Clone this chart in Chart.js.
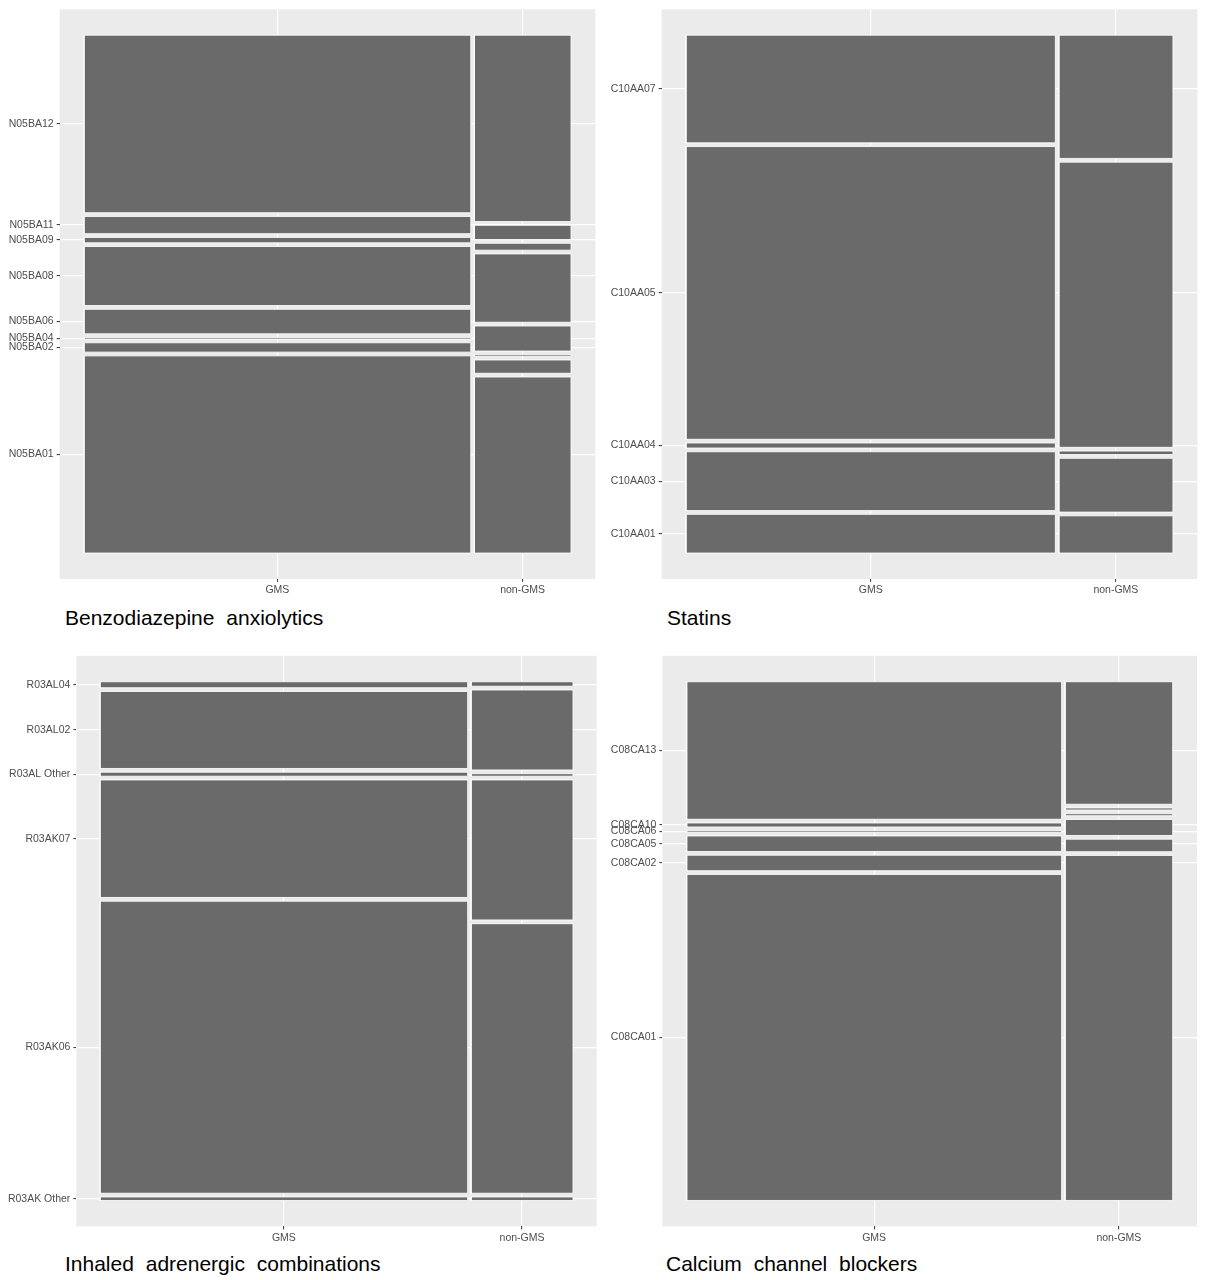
<!DOCTYPE html>
<html><head><meta charset="utf-8">
<script src="https://cdn.jsdelivr.net/npm/chart.js@4.4.1/dist/chart.umd.min.js"></script>
<style>
body{margin:0;background:#fff;}
#wrap{position:relative;width:1206px;height:1280px;overflow:hidden;background:#fff;}
#wrap canvas{position:absolute;}
.cap{position:absolute;font-family:'Liberation Sans',Arial,sans-serif;font-size:21px;line-height:24px;color:#000;word-spacing:6px;white-space:nowrap;}
</style></head><body>
<div id="wrap">
  <canvas id="c0" width="600" height="600" style="left:0;top:0;width:600px;height:600px"></canvas>
  <canvas id="c1" width="606" height="600" style="left:600px;top:0;width:606px;height:600px"></canvas>
  <canvas id="c2" width="600" height="608" style="left:0;top:640px;width:600px;height:608px"></canvas>
  <canvas id="c3" width="606" height="608" style="left:600px;top:640px;width:606px;height:608px"></canvas>
  <div class="cap" id="t0" style="left:65px;top:606px"></div>
  <div class="cap" id="t1" style="left:667px;top:606px"></div>
  <div class="cap" id="t2" style="left:65px;top:1252px"></div>
  <div class="cap" id="t3" style="left:666px;top:1252px"></div>
</div>
<script>
// ---------------- data (shares in %) ----------------
const columns = ['GMS', 'non-GMS'];

const benzoCats = ['N05BA01','N05BA02','N05BA04','N05BA06','N05BA08','N05BA09','N05BA11','N05BA12'];
const benzoGMS = [40.1, 1.9, 0.3, 5.0, 12.0, 1.1, 3.5, 36.1];
const benzoNonGMS = [35.8, 2.7, 0.3, 5.1, 13.9, 1.4, 2.9, 37.9];
const benzoColumnShare = [80.0, 20.0];

const statinCats = ['C10AA01','C10AA03','C10AA04','C10AA05','C10AA07'];
const statinGMS = [7.7, 11.7, 1.0, 58.2, 21.4];
const statinNonGMS = [7.4, 10.7, 0.7, 56.7, 24.5];
const statinColumnShare = [76.4, 23.6];

const inhaledCats = ['R03AK Other','R03AK06','R03AK07','R03AL Other','R03AL02','R03AL04'];
const inhaledGMS = [0.7, 58.4, 23.5, 0.8, 15.4, 1.2];
const inhaledNonGMS = [0.7, 53.9, 28.0, 0.5, 16.0, 0.9];
const inhaledColumnShare = [78.3, 21.7];

const ccbCats = ['C08CA01','C08CA02','C08CA05','C08CA06','C08CA10','C08CA13'];
const ccbGMS = [65.2, 3.1, 3.1, 0.3, 0.8, 27.5];
const ccbNonGMS = [69.0, 2.5, 3.2, 0.4, 0.4, 24.5];
const ccbColumnShare = [77.7, 22.3];

const titles = ['Benzodiazepine anxiolytics', 'Statins', 'Inhaled adrenergic combinations', 'Calcium channel blockers'];

// ---------------- styling / layout ----------------
const GAP = 0.0072;
const FILL = '#6a6a6a';
const FONT = "'Liberation Sans', Arial, sans-serif";

function mosaic(colValues, colShare) {
  const totalShare = colShare.reduce((a, b) => a + b, 0);
  const availX = 1 - GAP * (colShare.length - 1);
  let x = 0;
  const rects = [], colCenters = [], firstCenters = [];
  colShare.forEach((s, j) => {
    const w = s / totalShare * availX;
    const x0 = x, x1 = x + w;
    colCenters.push((x0 + x1) / 2);
    const vals = colValues[j];
    const tot = vals.reduce((a, b) => a + b, 0);
    const availY = 1 - GAP * (vals.length - 1);
    let y = 0;
    vals.forEach((v) => {
      const h = v / tot * availY;
      rects.push({x0, x1, y0: y, y1: y + h});
      if (j === 0) firstCenters.push(y + h / 2);
      y += h + GAP;
    });
    x = x1 + GAP;
  });
  return {rects, colCenters, firstCenters};
}

const panelBg = {
  id: 'panelBg',
  beforeDraw(chart) {
    const {ctx, chartArea: a} = chart;
    ctx.save();
    ctx.fillStyle = '#ebebeb';
    ctx.fillRect(a.left, a.top, a.right - a.left, a.bottom - a.top);
    ctx.restore();
  }
};

function makeChart(id, cats, colValues, colShare, lay) {
  const m = mosaic(colValues, colShare);
  const datasets = m.rects.map(r => ({
    data: [{x: r.x0, y: r.y0}, {x: r.x1, y: r.y0}, {x: r.x1, y: r.y1}, {x: r.x0, y: r.y1}, {x: r.x0, y: r.y0}],
    fill: 'shape',
    backgroundColor: FILL,
    borderColor: 'rgba(255,255,255,0.85)',
    borderWidth: 1,
    borderJoinStyle: 'miter',
    borderCapStyle: 'square',
    pointRadius: 0,
    pointHoverRadius: 0,
    tension: 0
  }));
  const tickFont = {family: FONT, size: 10.5};
  return new Chart(document.getElementById(id), {
    type: 'line',
    data: {datasets},
    options: {
      responsive: false,
      animation: false,
      events: [],
      layout: {padding: {left: 0, right: lay.right, top: lay.top, bottom: 0}},
      plugins: {legend: {display: false}, tooltip: {enabled: false}, title: {display: false}},
      scales: {
        x: {
          type: 'linear', min: -0.05, max: 1.05,
          afterBuildTicks: s => { s.ticks = m.colCenters.map(v => ({value: v})); },
          ticks: {callback: (v, i) => columns[i], font: tickFont, color: '#4d4d4d', padding: 2, autoSkip: false, maxRotation: 0},
          grid: {color: '#ffffff', lineWidth: 1.2, drawTicks: true, tickLength: 3, tickColor: '#333333', tickWidth: 1},
          border: {display: false},
          afterFit: s => { s.height = lay.xh; }
        },
        y: {
          type: 'linear', min: -0.05, max: 1.05,
          afterBuildTicks: s => { s.ticks = m.firstCenters.map(v => ({value: v})); },
          ticks: {callback: (v, i) => cats[i], font: tickFont, color: '#4d4d4d', padding: 3, autoSkip: false},
          grid: {color: '#ffffff', lineWidth: 1.2, drawTicks: true, tickLength: 3, tickColor: '#333333', tickWidth: 1},
          border: {display: false},
          afterFit: s => { s.width = lay.yw; }
        }
      }
    },
    plugins: [panelBg]
  });
}

makeChart('c0', benzoCats, [benzoGMS, benzoNonGMS], benzoColumnShare, {yw: 59.65, right: 4.65, top: 8.05, xh: 21.05});
makeChart('c1', statinCats, [statinGMS, statinNonGMS], statinColumnShare, {yw: 61.65, right: 8.7, top: 8.05, xh: 21.05});
makeChart('c2', inhaledCats, [inhaledGMS, inhaledNonGMS], inhaledColumnShare, {yw: 76.35, right: 3.35, top: 15.8, xh: 21.6});
makeChart('c3', ccbCats, [ccbGMS, ccbNonGMS], ccbColumnShare, {yw: 62.4, right: 9, top: 15.8, xh: 21.6});

titles.forEach((t, i) => { document.getElementById('t' + i).textContent = t; });
</script>
</body></html>
